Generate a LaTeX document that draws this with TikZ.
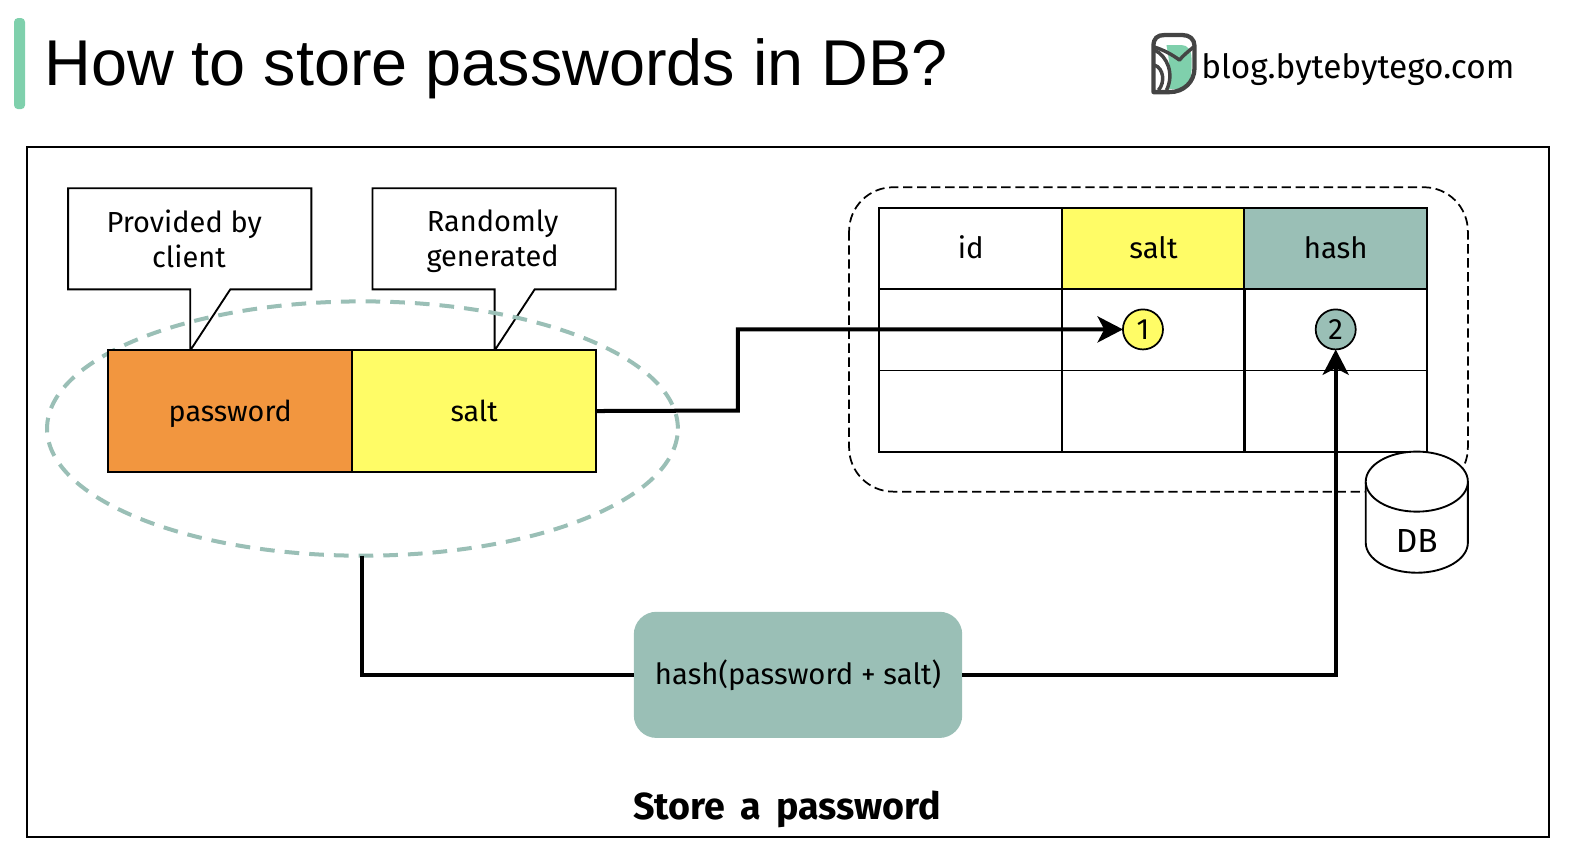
\documentclass[tikz,border=0pt]{standalone}
\usepackage{fontspec}
\setmainfont{Fira Sans}
\newfontfamily\titlefont{Liberation Sans}
\usetikzlibrary{arrows.meta,shapes.geometric,calc}
\definecolor{teal}{HTML}{9ABFB6}
\definecolor{yel}{HTML}{FFFC66}
\definecolor{org}{HTML}{F2963F}
\definecolor{mint}{HTML}{7FD0AC}
\definecolor{ink}{HTML}{444444}
\def\pxu{0.75pt}
\tikzset{
  x=0.75pt,y=-0.75pt,
  mid/.style={text height=19pt,text depth=4pt},
  cell/.style={draw=black,line width=1.4pt,minimum width=182.5*\pxu,minimum height=81*\pxu,inner sep=0pt,outer sep=0pt,mid,font=\fontsize{22}{24}\selectfont},
  field/.style={draw=black,line width=1.5pt,minimum width=243.5*\pxu,minimum height=122*\pxu,inner sep=0pt,outer sep=0pt,mid,font=\fontsize{21.5}{24}\selectfont},
  note/.style={align=center,inner sep=0pt,font=\fontsize{21.7}{26.2}\selectfont},
  badge/.style={circle,draw=black,line width=1.3pt,minimum size=40*\pxu,inner sep=0pt,outer sep=0pt,mid,font=\fontsize{22}{24}\selectfont},
  wire/.style={line width=3pt,draw=black},
  tipped/.style={wire,-{Stealth[length=19pt,width=19.5pt,inset=5pt]}},
}
\begin{document}
\begin{tikzpicture}
\useasboundingbox (0,0) rectangle (1568,857);
% title
\fill[mint,rounded corners=3pt] (14,18) rectangle (25,109);
\node[anchor=base west,inner sep=0pt,font=\titlefont\fontsize{48.5}{50}\selectfont] (title) at (44,85) {How to store passwords in DB?};
% logo
\fill[mint] (1165,45) -- (1180,45) .. controls (1186,45) and (1190,50) .. (1190,58) -- (1190,70) .. controls (1190,82) and (1184,89) .. (1172,89) -- (1165,89) .. controls (1170,76) and (1168,62) .. (1165,45) -- cycle;
\draw[ink,line width=3.2pt,line join=round] (1152,92) -- (1152,46) .. controls (1152,38) and (1156,35) .. (1163,35) -- (1181,35) .. controls (1188,35) and (1193,39) .. (1193,46) -- (1193,68) .. controls (1193,82) and (1182,92) .. (1168,92) -- cycle;
\draw[ink,line width=2.6pt,line join=round] (1153,47) .. controls (1162,50) and (1170,54) .. (1178,60) .. controls (1181,56) and (1186,52) .. (1192,47);
\draw[ink,line width=2.6pt] (1153,50) .. controls (1166,56) and (1173,74) .. (1165,90);
\draw[ink,line width=2.6pt] (1153,65) .. controls (1162,68) and (1164,82) .. (1157,90);
\node[anchor=base west,inner sep=0pt,font=\fontsize{25}{28}\selectfont] (site) at (1199.5,78) {blog.bytebytego.com};
% frame
\draw[black,line width=1.5pt] (27,147) rectangle (1547,836);
% callouts
\draw[black,line width=1.4pt,fill=white] (190,350) -- (190,289) -- (68,289) -- (68,188) -- (311,188) -- (311,289) -- (230,289) -- cycle;
\draw[black,line width=1.4pt,fill=white] (494,350) -- (494,289) -- (372,289) -- (372,188) -- (615,188) -- (615,289) -- (534,289) -- cycle;
\node[note] (n1) at (184,238.5) {Provided by\\\hspace*{7pt}client};
\node[note] (n2) at (492,241) {Randomly\\generated};
% ellipse
\node[ellipse,draw=teal,line width=3pt,dash pattern=on 11pt off 7.5pt,minimum width=630*\pxu,minimum height=254*\pxu,inner sep=0pt,outer sep=0pt] (group) at (362,428) {};
% fields
\node[field,fill=org] (pw) at (230,410.5) {password};
\node[field,fill=yel] (slt) at (473.5,410.5) {salt};
% dashed container
\draw[black,line width=1.3pt,dash pattern=on 7pt off 3.5pt,rounded corners=33pt] (848,187) rectangle (1466,491);
% table
\node[cell] (t11) at (969.5,248.5) {id};
\node[cell,fill=yel] (t12) at (1152,248.5) {salt};
\node[cell,fill=teal] (t13) at (1334,248.5) {hash};
\node[cell] (t21) at (969.5,329.5) {};
\node[cell] (t22) at (1152,329.5) {};
\node[cell] (t23) at (1334,329.5) {};
\node[cell] (t31) at (969.5,410.5) {};
\node[cell] (t32) at (1152,410.5) {};
\node[cell] (t33) at (1334,410.5) {};
% badges
\node[badge,fill=yel] (b1) at (1141.5,329) {1};
\node[badge,fill=teal] (b2) at (1334,329) {2};
% hash box
\node[fill=teal,rounded corners=17pt,minimum width=328*\pxu,minimum height=126*\pxu,inner sep=0pt,outer sep=0pt,mid,font=\fontsize{21.9}{24}\selectfont] (hb) at (797,674) {hash(password + salt)};
% cylinder
\draw[black,line width=1.4pt,fill=white] (1364,481) -- (1364,542) arc[start angle=180,end angle=360,x radius=51*\pxu,y radius=30*\pxu] -- (1466,481);
\draw[black,line width=1.4pt,fill=white] (1415,481) ellipse[x radius=51*\pxu,y radius=30*\pxu];
\node[inner sep=0pt,text height=20pt,text depth=4pt,font=\fontsize{25}{28}\selectfont] (db) at (1415,541) {DB};
% connectors
\coordinate (c1) at (737,410);
\coordinate (c2) at (737,329);
\draw[tipped] (slt.east) -- (c1) -- (c2) -- (b1.west);
\draw[wire] (group.south) |- (hb.west);
\draw[tipped] (hb.east) -| (b2.south);
% caption
\node[inner sep=0pt,font=\bfseries\fontsize{28.2}{30}\selectfont] (cap) at (786,808) {Store\, a\, password};
\end{tikzpicture}
\end{document}
